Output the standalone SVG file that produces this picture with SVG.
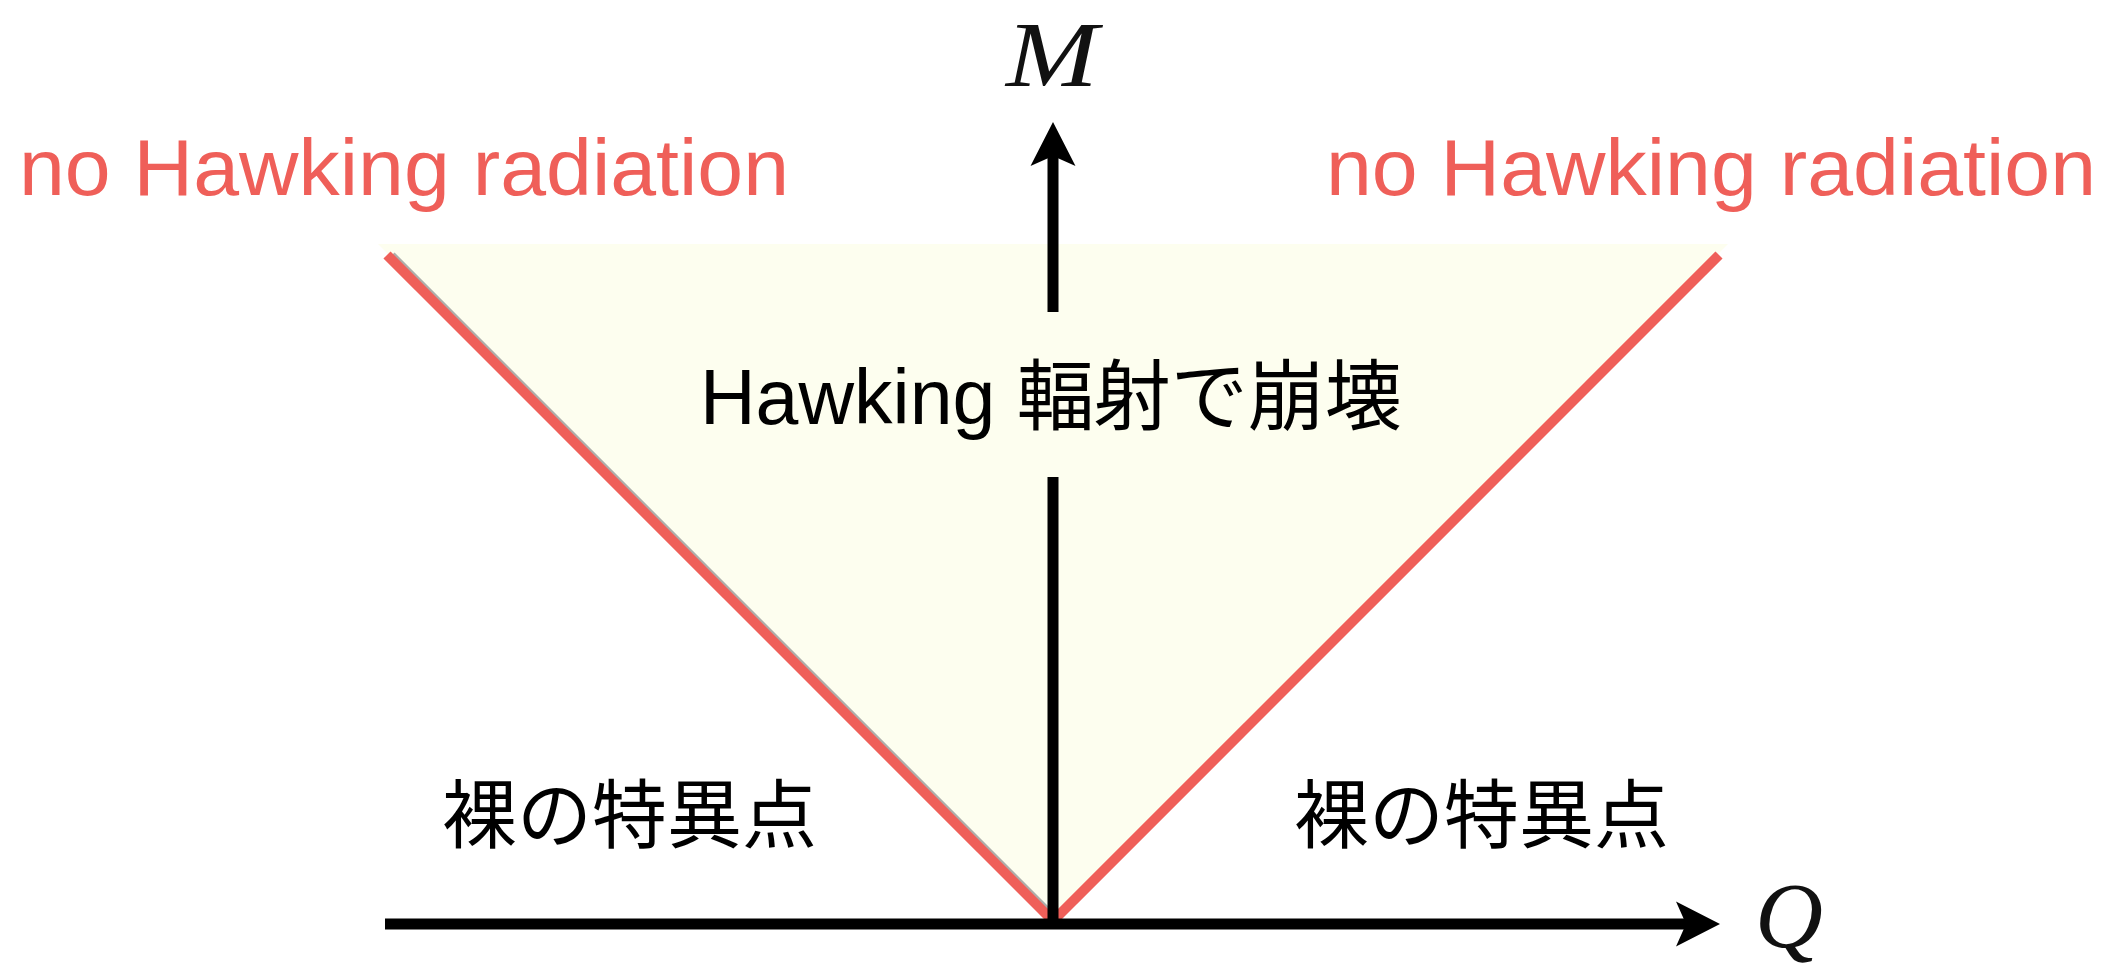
<svg xmlns="http://www.w3.org/2000/svg" width="2113" height="969" viewBox="0 0 2113 969">
  <style>
    .axis { stroke: #000; stroke-width: 11; fill: none; stroke-linecap: butt; }
    .bound { stroke: #EF5F59; stroke-width: 10; fill: none; stroke-linecap: butt; }
    .shadow { stroke: #9a9a9a; stroke-width: 10; fill: none; opacity: 0.8; }
    .red { fill: #EF5F59; font-family: "Liberation Sans", Arial, sans-serif; font-size: 80px; }
    .jp { fill: #000; font-family: "Liberation Sans", "Noto Sans CJK JP", sans-serif; }
    .math { fill: #111; font-family: "Liberation Serif", "Times New Roman", serif; font-style: italic; font-size: 94px; }
  </style>
  <defs>
    <marker id="arrow" viewBox="-10 -23 44 46" refX="0" refY="0" markerWidth="44" markerHeight="46" markerUnits="userSpaceOnUse" orient="auto">
      <path d="M34,0 L-10,-22.5 L0,0 L-10,22.5 Z" fill="#000"/>
    </marker>
  </defs>
  <rect width="2113" height="969" fill="#fff"/>
  <g id="region">
    <polygon points="378,244 1728,244 1053,919" fill="#FDFEEF"/>
  </g>
  <g id="connectors">
    <line class="shadow" x1="391" y1="256" x2="1055" y2="920"/>
    <line class="bound" x1="387" y1="255" x2="1053" y2="921"/>
    <line class="bound" x1="1053" y1="921" x2="1719" y2="255"/>
    <line class="axis" x1="385" y1="924" x2="1686" y2="924" marker-end="url(#arrow)"/>
    <line class="axis" x1="1053" y1="924" x2="1053" y2="477"/>
    <line class="axis" x1="1053" y1="312" x2="1053" y2="156" marker-end="url(#arrow)"/>
  </g>
  <g id="label-M"><text class="math" x="1052" y="86" text-anchor="middle" textLength="92" lengthAdjust="spacingAndGlyphs">M</text></g>
  <g id="label-Q"><text class="math" x="1755" y="947">Q</text></g>
  <g id="label-no-hawking-left"><text class="red" x="19" y="195" textLength="770" lengthAdjust="spacingAndGlyphs">no Hawking radiation</text></g>
  <g id="label-no-hawking-right"><text class="red" x="1326" y="195" textLength="770" lengthAdjust="spacingAndGlyphs">no Hawking radiation</text></g>
  <g id="label-hawking"><text class="jp" x="700" y="424" font-size="77">Hawking 輻射で崩壊</text></g>
  <g id="label-naked-left"><text class="jp" x="442" y="842" font-size="75">裸の特異点</text></g>
  <g id="label-naked-right"><text class="jp" x="1294" y="842" font-size="75">裸の特異点</text></g>
</svg>
